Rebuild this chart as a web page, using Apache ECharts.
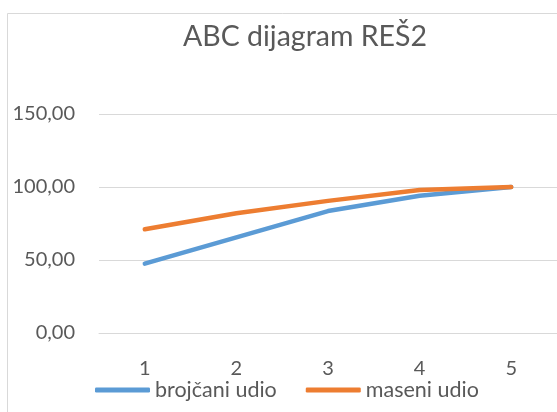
<!DOCTYPE html>
<html>
<head>
<meta charset="utf-8">
<script src="https://cdn.jsdelivr.net/npm/echarts@6/dist/echarts.min.js"></script>
<style>
  html, body { margin: 0; padding: 0; background: #fff; }
  #chart { width: 557px; height: 412px; }
</style>
</head>
<body>
<div id="chart"></div>
<script>
// ABC dijagram - podaci
const categories = ['1', '2', '3', '4', '5'];
const brojcaniUdio = [47.5, 65.5, 83.5, 94, 100];
const maseniUdio = [71, 82, 90.5, 98, 100];
const seriesNames = ['brojčani udio', 'maseni udio'];
const yTicks = [0, 50, 100, 150];

const textColor = '#595959';
const gridColor = '#d9d9d9';
const font = 'Lato';

const myChart = echarts.init(document.getElementById('chart'));
const option = {
  backgroundColor: '#fff',
  textStyle: { fontFamily: font },
  title: {
    text: 'ABC dijagram REŠ2',
    left: 300,
    textAlign: 'center',
    top: 17,
    textStyle: { color: textColor, fontSize: 28.5, fontWeight: 'normal', fontFamily: font },
  },
  graphic: [
    {
      type: 'rect',
      shape: { x: 7.5, y: 13.5, width: 700, height: 600 },
      style: { fill: 'none', stroke: gridColor, lineWidth: 1 },
      silent: true,
      z: -1,
    },
  ],
  legend: {
    left: 90,
    top: 374,
    itemWidth: 55,
    itemHeight: 5,
    itemGap: 29,
    icon: 'roundRect',
    textStyle: { color: textColor, fontSize: 21.5, fontFamily: font },
    data: seriesNames,
  },
  grid: { left: 99, top: 114, width: 460, height: 219 },
  xAxis: {
    type: 'category',
    data: categories,
    boundaryGap: true,
    axisLine: { lineStyle: { color: gridColor, width: 1 } },
    axisTick: { show: false },
    axisLabel: { color: textColor, fontSize: 20, margin: 26, fontFamily: font },
  },
  yAxis: {
    type: 'value',
    min: yTicks[0],
    max: yTicks[yTicks.length - 1],
    interval: 50,
    axisLine: { show: false },
    axisTick: { show: false },
    splitLine: { lineStyle: { color: gridColor, width: 1 } },
    axisLabel: {
      color: textColor,
      fontSize: 20,
      margin: 24,
      fontFamily: font,
      formatter: (v) => v.toFixed(2).replace('.', ','),
    },
  },
  series: [
    {
      name: seriesNames[0],
      type: 'line',
      data: brojcaniUdio,
      symbol: 'none',
      color: '#5B9BD5',
      lineStyle: { width: 4.5, color: '#5B9BD5', cap: 'round', join: 'round' },
      z: 2,
    },
    {
      name: seriesNames[1],
      type: 'line',
      data: maseniUdio,
      symbol: 'none',
      color: '#ED7D31',
      lineStyle: { width: 4.5, color: '#ED7D31', cap: 'round', join: 'round' },
      z: 3,
    },
  ],
};

option && myChart.setOption(option);
</script>
</body>
</html>
